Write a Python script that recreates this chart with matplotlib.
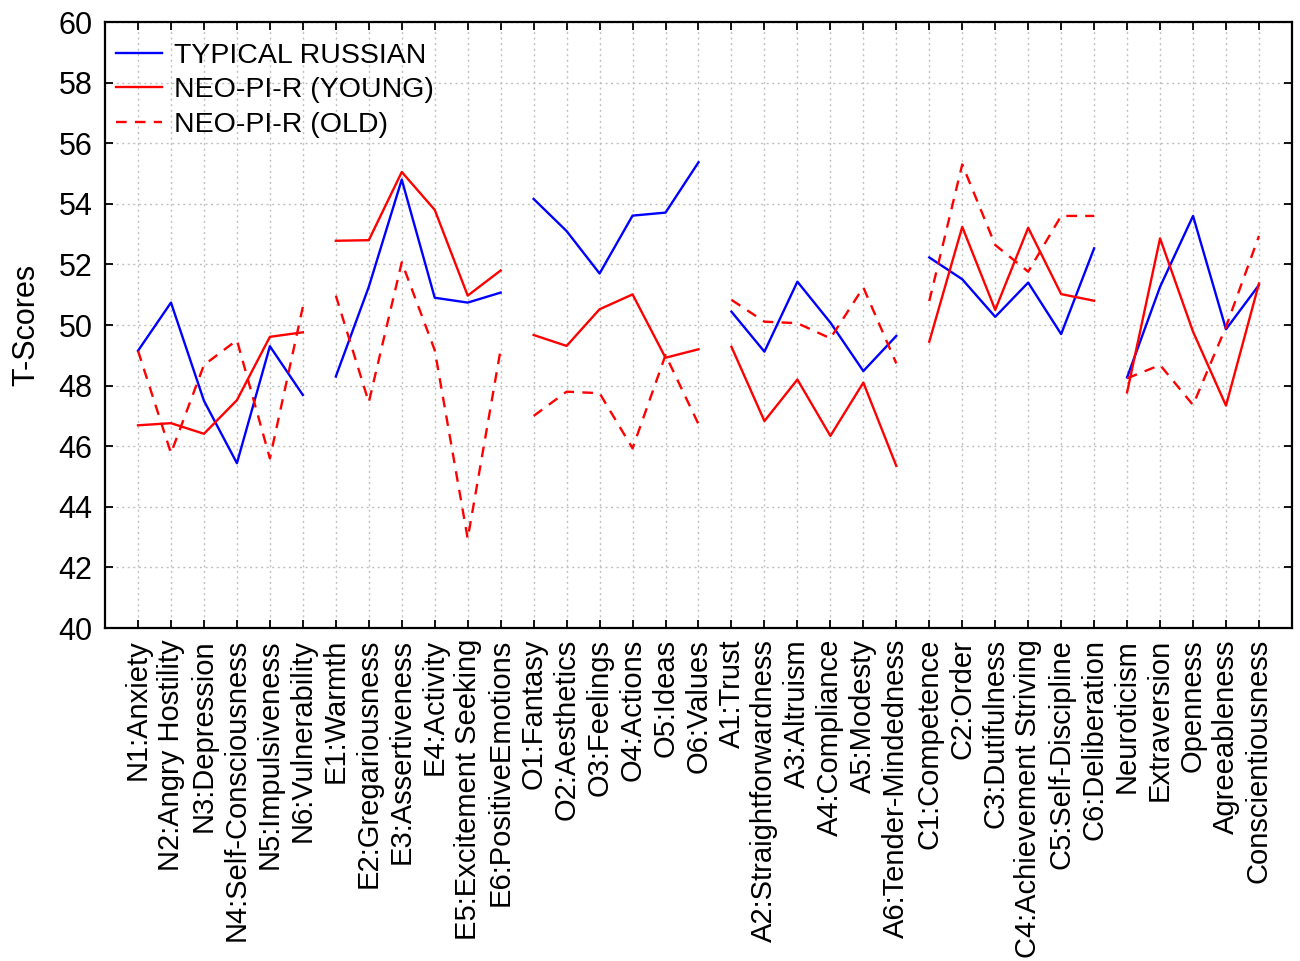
import matplotlib
matplotlib.use('Agg')
import matplotlib.pyplot as plt
import numpy as np

plt.rcParams['font.family'] = ['Liberation Sans', 'DejaVu Sans']

scales = ['N1:Anxiety', 'N2:Angry Hostility', 'N3:Depression', 'N4:Self-Consciousness',
          'N5:Impulsiveness', 'N6:Vulnerability',
          'E1:Warmth', 'E2:Gregariousness', 'E3:Assertiveness', 'E4:Activity',
          'E5:Excitement Seeking', 'E6:PositiveEmotions',
          'O1:Fantasy', 'O2:Aesthetics', 'O3:Feelings', 'O4:Actions', 'O5:Ideas', 'O6:Values',
          'A1:Trust', 'A2:Straightforwardness', 'A3:Altruism', 'A4:Compliance',
          'A5:Modesty', 'A6:Tender-Mindedness',
          'C1:Competence', 'C2:Order', 'C3:Dutifulness', 'C4:Achievement Striving',
          'C5:Self-Discipline', 'C6:Deliberation',
          'Neuroticism', 'Extraversion', 'Openness', 'Agreeableness', 'Conscientiousness']

typical_russian = [49.15, 50.74, 47.5, 45.44, 49.3, 47.69,
                   48.3, 51.26, 54.8, 50.9, 50.74, 51.07,
                   54.16, 53.1, 51.7, 53.61, 53.71, 55.37,
                   50.44, 49.12, 51.43, 50.08, 48.48, 49.64,
                   52.23, 51.51, 50.27, 51.4, 49.7, 52.53,
                   48.27, 51.26, 53.6, 49.86, 51.32]

neo_young = [46.69, 46.76, 46.41, 47.52, 49.61, 49.76,
             52.78, 52.8, 55.05, 53.8, 50.97, 51.8,
             49.67, 49.31, 50.52, 51.01, 48.92, 49.2,
             49.28, 46.83, 48.2, 46.34, 48.1, 45.35,
             49.45, 53.24, 50.5, 53.21, 51.02, 50.8,
             47.78, 52.86, 49.78, 47.34, 51.37]

neo_old = [49.15, 45.77, 48.68, 49.5, 45.6, 50.6,
           50.97, 47.45, 52.07, 49.17, 42.95, 49.2,
           47.0, 47.8, 47.75, 45.93, 49.01, 46.73,
           50.83, 50.11, 50.06, 49.56, 51.24, 48.73,
           50.79, 55.3, 52.64, 51.76, 53.6, 53.6,
           48.24, 48.68, 47.36, 49.94, 52.94]

# facet groups are drawn as separate segments
groups = [(0, 6), (6, 12), (12, 18), (18, 24), (24, 30), (30, 35)]

fig = plt.figure(figsize=(13, 9.61), dpi=100)
ax = fig.add_axes([0.0808, 0.3465, 0.9130, 0.6306])

x = np.arange(len(scales))
tr = np.asarray(typical_russian)
ny = np.asarray(neo_young)
no = np.asarray(neo_old)

for i, (a, b) in enumerate(groups):
    ax.plot(x[a:b], tr[a:b], color='#0000ff', lw=1.7,
            label='TYPICAL RUSSIAN' if i == 0 else None)
    ax.plot(x[a:b], ny[a:b], color='#ff0000', lw=1.7,
            label='NEO-PI-R (YOUNG)' if i == 0 else None)
    ax.plot(x[a:b], no[a:b], color='#ff0000', lw=1.7, dashes=(4.5, 3.5),
            label='NEO-PI-R (OLD)' if i == 0 else None)

ax.set_xlim(-1, len(scales))
ax.set_ylim(40, 60)
ax.set_yticks(np.arange(40, 61, 2))
ax.set_xticks(x)
ax.set_xticklabels(scales, rotation=90, fontsize=21)
ax.tick_params(axis='y', labelsize=22, pad=9)
ax.tick_params(axis='x', pad=8)
ax.tick_params(direction='in', length=6, width=1.3, top=True, right=True)
ax.set_ylabel('T-Scores', fontsize=22, labelpad=12)

ax.grid(True, color='#c0c0c0', linestyle=(0, (1.5, 2.5)), lw=1)
for s in ax.spines.values():
    s.set_linewidth(1.6)

ax.legend(loc='upper left', bbox_to_anchor=(-0.008, 1.0), frameon=False, fontsize=20.5,
          handlelength=1.6, handletextpad=0.45, labelspacing=0.3, borderaxespad=0.3,
          borderpad=0.42)

fig.savefig('out.png', dpi=100)
